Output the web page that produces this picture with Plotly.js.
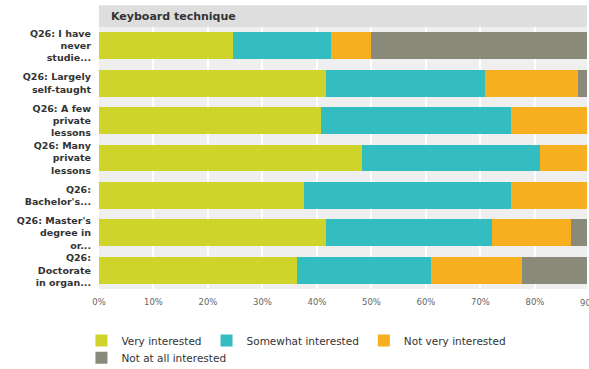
<!DOCTYPE html>
<html>
<head>
<meta charset="utf-8">
<script src="https://cdn.plot.ly/plotly-3.0.1.min.js"></script>
<style>
html,body{margin:0;padding:0;background:#fff;overflow:hidden;}
#chart{width:589px;height:369px;}
</style>
</head>
<body>
<div id="chart"></div>
<script>
// ---- data ----
var categories = [
  "Q26: I have<br>never<br>studie...",
  "Q26: Largely<br>self-taught",
  "Q26: A few<br>private<br>lessons",
  "Q26: Many<br>private<br>lessons",
  "Q26:<br>Bachelor's...",
  "Q26: Master's<br>degree in<br>or...",
  "Q26:<br>Doctorate<br>in organ..."
];
var veryInterested     = [24.5, 41.6, 40.8, 48.2, 37.6, 41.6, 36.4];
var somewhatInterested = [18.1, 29.3, 34.8, 32.7, 38.0, 30.5, 24.5];
var notVeryInterested  = [7.3, 17.0, 19.5, 15.0, 18.3, 14.6, 16.8];
var notAtAllInterested = [50.1, 12.1, 4.9, 4.1, 6.1, 13.3, 22.3];
var seriesNames = ["Very interested", "Somewhat interested", "Not very interested", "Not at all interested"];
var seriesColors = ["#cfd42a", "#34bdc0", "#f7af1f", "#8a8a7a"];
var panelTitle = "Keyboard technique";
var xTickValues = [0, 10, 20, 30, 40, 50, 60, 70, 80];
var xTickLabels = ["0%", "10%", "20%", "30%", "40%", "50%", "60%", "70%", "80%"];
var xVisibleMax = 89.55;
var cutTickValue = 90;
var cutTickLabel = "90%";

var seriesValues = [veryInterested, somewhatInterested, notVeryInterested, notAtAllInterested];
var legendIds = ["legend", "legend", "legend", "legend2"];

var traces = seriesValues.map(function (vals, i) {
  return {
    type: "bar",
    orientation: "h",
    name: seriesNames[i],
    x: vals,
    y: categories,
    marker: {color: seriesColors[i], line: {width: 0}},
    legend: legendIds[i],
    hoverinfo: "x+y+name"
  };
});

var layout = {
  width: 589,
  height: 369,
  margin: {l: 99, r: 2, t: 27, b: 80, autoexpand: false},
  paper_bgcolor: "#ffffff",
  plot_bgcolor: "#efefef",
  barmode: "stack",
  bargap: 0.28,
  showlegend: true,
  xaxis: {
    range: [0, xVisibleMax],
    tickmode: "array",
    tickvals: xTickValues,
    ticktext: xTickLabels,
    showgrid: true,
    gridcolor: "#ffffff",
    gridwidth: 1.5,
    zeroline: false,
    showline: false,
    ticks: "",
    ticklabelstandoff: 6,
    tickfont: {family: "DejaVu Sans", size: 8.5, color: "#666666"},
    fixedrange: true
  },
  yaxis: {
    autorange: "reversed",
    type: "category",
    showgrid: false,
    zeroline: false,
    showline: false,
    ticks: "",
    ticklabelstandoff: 7,
    tickfont: {family: "DejaVu Sans", size: 9.5, color: "#333333", weight: "bold"},
    fixedrange: true
  },
  shapes: [{
    type: "rect", xref: "paper", yref: "paper",
    x0: 0, x1: 1, y0: 1, y1: 1.083,
    fillcolor: "#dedede", line: {width: 0}, layer: "below"
  }],
  annotations: [
    {
      text: panelTitle, xref: "paper", yref: "paper",
      x: 0, y: 1.0415, xanchor: "left", yanchor: "middle", xshift: 10,
      showarrow: false,
      font: {family: "DejaVu Sans", size: 11, color: "#333333", weight: "bold"}
    },
    {
      text: cutTickLabel, xref: "paper", yref: "paper",
      x: cutTickValue / xVisibleMax, y: 0, xanchor: "center", yanchor: "top", yshift: -7,
      showarrow: false,
      font: {family: "DejaVu Sans", size: 8.5, color: "#666666"}
    }
  ],
  legend: {
    orientation: "h",
    x: -0.036, xanchor: "left",
    y: -0.197, yanchor: "middle",
    bgcolor: "rgba(0,0,0,0)",
    font: {family: "DejaVu Sans", size: 10.5, color: "#333333"},
    traceorder: "normal"
  },
  legend2: {
    orientation: "h",
    x: -0.036, xanchor: "left",
    y: -0.262, yanchor: "middle",
    bgcolor: "rgba(0,0,0,0)",
    font: {family: "DejaVu Sans", size: 10.5, color: "#333333"},
    traceorder: "normal"
  }
};

Plotly.newPlot("chart", traces, layout, {displayModeBar: false});
</script>
</body>
</html>
